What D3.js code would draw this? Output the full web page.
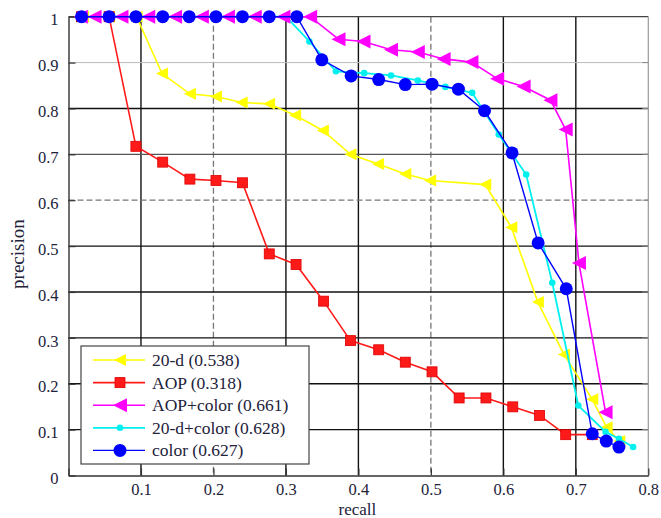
<!DOCTYPE html>
<html><head><meta charset="utf-8">
<script src="https://cdn.jsdelivr.net/npm/d3@7"></script>
<style>html,body{margin:0;padding:0;background:#fff;}svg{display:block;}</style>
</head><body>
<svg id="chart" width="661" height="518"></svg>
<script>
// ---- data ----
const xTicks = [0, 0.1, 0.2, 0.3, 0.4, 0.5, 0.6, 0.7, 0.8];
const xTickLabels = ["", "0.1", "0.2", "0.3", "0.4", "0.5", "0.6", "0.7", "0.8"];
const yTicks = [0, 0.1, 0.2, 0.3, 0.4, 0.5, 0.6, 0.7, 0.8, 0.9, 1];
const yTickLabels = ["0", "0.1", "0.2", "0.3", "0.4", "0.5", "0.6", "0.7", "0.8", "0.9", "1"];

const names = ["20-d (0.538)", "AOP (0.318)", "AOP+color (0.661)", "20-d+color (0.628)", "color (0.627)"];

const recall20d = [0.02,0.056,0.094,0.129,0.1675,0.2035,0.239,0.2767,0.3127,0.351,0.389,0.427,0.4647,0.499,0.575,0.611,0.6476,0.6835,0.7227,0.7425,0.76];
const prec20d   = [1,1,1,0.876,0.832,0.826,0.813,0.81,0.785,0.752,0.70,0.679,0.657,0.643,0.634,0.541,0.378,0.264,0.166,0.105,0.075];

const recallAOP = [0.018,0.056,0.093,0.13,0.1675,0.2035,0.240,0.277,0.314,0.352,0.389,0.428,0.4647,0.5016,0.539,0.576,0.613,0.650,0.686,0.7227];
const precAOP   = [1,1,0.7175,0.683,0.646,0.643,0.638,0.483,0.46,0.38,0.294,0.274,0.247,0.226,0.169,0.169,0.1496,0.131,0.089,0.089];

const recallAOPc = [0.017,0.036,0.073,0.11,0.147,0.184,0.22,0.257,0.2965,0.3335,0.3725,0.407,0.445,0.482,0.5176,0.556,0.5914,0.628,0.665,0.686,0.7043,0.741];
const precAOPc   = [1,1,1,1,1,1,1,1,1,1,0.951,0.946,0.928,0.923,0.908,0.901,0.865,0.848,0.818,0.754,0.463,0.138];

const recall20dc = [0.018,0.056,0.093,0.13,0.1665,0.2035,0.24,0.277,0.30,0.3324,0.369,0.408,0.445,0.482,0.52,0.557,0.5937,0.6315,0.6675,0.7034,0.741,0.7595,0.779];
const prec20dc   = [1,1,1,1,1,1,1,1,1,0.946,0.881,0.877,0.872,0.861,0.847,0.834,0.743,0.656,0.42,0.1525,0.095,0.08,0.062];

const recallColor = [0.018,0.056,0.093,0.13,0.1665,0.2035,0.24,0.277,0.315,0.3495,0.39,0.428,0.4647,0.5016,0.538,0.574,0.612,0.648,0.6868,0.7227,0.742,0.7595];
const precColor   = [1,1,1,1,1,1,1,1,1,0.906,0.871,0.863,0.852,0.853,0.842,0.795,0.703,0.507,0.407,0.091,0.075,0.062];

// ---- layout ----
const L = 68.5, R = 648.3, T = 16.7, B = 475.5;
const x = d3.scaleLinear().domain([0, 0.8]).range([L, R]);
const y = d3.scaleLinear().domain([0, 1]).range([B, T]);
const svg = d3.select("#chart");
const FONT = "'Liberation Serif','Times New Roman',serif";
const TXT = "#22223a";

// grid
const vStyle = {0.1:"black",0.2:"dash",0.3:"black",0.4:"black",0.5:"dash",0.6:"black",0.7:"black"};
const hStyle = {0.1:"black",0.2:"black",0.3:"black",0.4:"black",0.5:"black",0.6:"dash",0.7:"gray",0.8:"black",0.9:"light"};
function styleLine(sel, s) {
  if (s === "black") sel.attr("stroke", "#111").attr("stroke-width", 1.4);
  else if (s === "dash") sel.attr("stroke", "#777").attr("stroke-width", 1.3).attr("stroke-dasharray", "6,3");
  else if (s === "gray") sel.attr("stroke", "#555").attr("stroke-width", 1.2);
  else sel.attr("stroke", "#bbb").attr("stroke-width", 1);
}
const grid = svg.append("g");
xTicks.filter(v => vStyle[v]).forEach(v => {
  const ln = grid.append("line").attr("x1", x(v)).attr("x2", x(v)).attr("y1", y(1)).attr("y2", y(0));
  styleLine(ln, vStyle[v]);
});
yTicks.filter(v => hStyle[v]).forEach(v => {
  const ln = grid.append("line").attr("x1", x(0)).attr("x2", x(0.8)).attr("y1", y(v)).attr("y2", y(v));
  styleLine(ln, hStyle[v]);
});
// frame
svg.append("line").attr("x1", L).attr("x2", R).attr("y1", T).attr("y2", T).attr("stroke", "#444").attr("stroke-width", 1.2);
svg.append("line").attr("x1", R).attr("x2", R).attr("y1", T).attr("y2", B).attr("stroke", "#999").attr("stroke-width", 1.2);
// right side small ticks
yTicks.slice(1, -1).forEach(v => {
  svg.append("line").attr("x1", R - 6).attr("x2", R).attr("y1", y(v)).attr("y2", y(v)).attr("stroke", "#888").attr("stroke-width", 1);
});

// axes
const xAxis = d3.axisBottom(x).tickValues(xTicks).tickFormat((d, i) => xTickLabels[i]).tickSizeInner(-7).tickSizeOuter(0).tickPadding(8);
const yAxis = d3.axisLeft(y).tickValues(yTicks).tickFormat((d, i) => yTickLabels[i]).tickSizeInner(-7).tickSizeOuter(0).tickPadding(10);
const gx = svg.append("g").attr("transform", `translate(0,${B})`).call(xAxis);
const gy = svg.append("g").attr("transform", `translate(${L},0)`).call(yAxis);
[gx, gy].forEach(g => {
  g.select(".domain").attr("stroke", "#333").attr("stroke-width", 1.4);
  g.selectAll(".tick line").attr("stroke", "#333").attr("stroke-width", 1.2);
  g.selectAll(".tick text").attr("font-family", FONT).attr("font-size", 16.5).attr("fill", TXT);
});
gy.selectAll(".tick text").attr("dy", "0.5em");

svg.append("text").attr("x", (L + R) / 2 - 1).attr("y", 514.5).attr("text-anchor", "middle")
  .attr("font-family", FONT).attr("font-size", 17).attr("fill", TXT).text("recall");
svg.append("text").attr("transform", `translate(24,${(T + B) / 2 + 8}) rotate(-90)`).attr("text-anchor", "middle")
  .attr("font-family", FONT).attr("font-size", 19).attr("fill", TXT).text("precision");

// series
const series = [
  {name: names[0], xs: recall20d, ys: prec20d, color: "#ffff00", marker: "tri", size: 6, lw: 1.6},
  {name: names[1], xs: recallAOP, ys: precAOP, color: "#ff1a1a", marker: "sq", size: 5, lw: 1.6},
  {name: names[3], xs: recall20dc, ys: prec20dc, color: "#00f0f0", marker: "dot", size: 3.3, lw: 1.8},
  {name: names[2], xs: recallAOPc, ys: precAOPc, color: "#ff00ff", marker: "tri", size: 7, lw: 1.6},
  {name: names[4], xs: recallColor, ys: precColor, color: "#0000ff", marker: "circ", size: 6.5, lw: 1.4}
];
const lineGen = d3.line().x(d => x(d[0])).y(d => y(d[1]));
function drawMarker(g, m, cx, cy, s, color) {
  if (m === "tri") {
    g.append("path").attr("d", `M${cx - s},${cy} L${cx + s},${cy - s} L${cx + s},${cy + s} Z`).attr("fill", color);
  } else if (m === "sq") {
    g.append("rect").attr("x", cx - s).attr("y", cy - s).attr("width", 2 * s).attr("height", 2 * s)
      .attr("fill", color).attr("stroke", "#d00").attr("stroke-width", 0.8);
  } else {
    g.append("circle").attr("cx", cx).attr("cy", cy).attr("r", s).attr("fill", color);
  }
}
series.forEach(s => {
  const pts = s.xs.map((v, i) => [v, s.ys[i]]);
  const g = svg.append("g");
  g.append("path").attr("d", lineGen(pts)).attr("fill", "none").attr("stroke", s.color).attr("stroke-width", s.lw);
  pts.forEach(p => drawMarker(g, s.marker, x(p[0]), y(p[1]), s.size, s.color));
});

// legend
const legOrder = [series[0], series[1], series[3], series[2], series[4]];
const lg = svg.append("g");
lg.append("rect").attr("x", 81).attr("y", 346).attr("width", 228).attr("height", 118)
  .attr("fill", "#fff").attr("stroke", "#444").attr("stroke-width", 1.2);
legOrder.forEach((s, i) => {
  const cy = 360 + i * 22.6;
  lg.append("line").attr("x1", 93).attr("x2", 145).attr("y1", cy).attr("y2", cy).attr("stroke", s.color).attr("stroke-width", s.lw);
  drawMarker(lg, s.marker, 120, cy, s.size, s.color);
  lg.append("text").attr("x", 152).attr("y", cy + 6).attr("font-family", FONT).attr("font-size", 17.5)
    .attr("fill", TXT).text(s.name);
});
</script>
</body></html>
